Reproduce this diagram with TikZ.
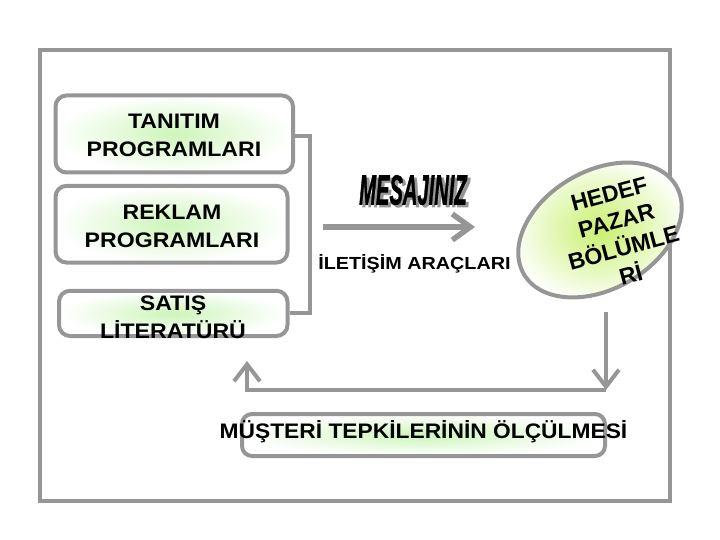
\documentclass[tikz,border=0pt]{standalone}
\usepackage{fontspec}
\usepackage{graphicx}
\setmainfont{Liberation Sans}
\usetikzlibrary{arrows.meta,shapes.geometric}
\definecolor{lg}{RGB}{150,150,150}
\definecolor{glow}{RGB}{205,245,185}
\definecolor{lime}{RGB}{200,240,110}
\newcommand{\sxx}[2][1.1]{\scalebox{#1}[1]{#2}}
\tikzset{
  gline/.style={draw=lg, line width=4pt},
  barb/.style={-{Straight Barb[length=17pt,width=26pt]}},
  box/.style={draw=lg, line width=4pt, rounded corners=11pt, inner color=glow, outer color=white},
  lbl/.style={align=center, font=\bfseries\fontsize{21}{28}\selectfont, inner sep=0pt},
  msgfont/.style={inner sep=0pt, font=\bfseries\itshape\fontsize{42}{42}\selectfont\addfontfeature{FakeBold=1.6}},
}
\begin{document}
\begin{tikzpicture}[x=1pt,y=-1pt]
\useasboundingbox (0,0) rectangle (720,540);
% frame
\draw[gline] (40,50.5) rectangle (669.5,500.5);
% boxes
\node[box, minimum width=237.5pt, minimum height=77pt] (b1) at (174.25,134) {};
\node[box, minimum width=232pt, minimum height=76.7pt] (b2) at (171.5,224.2) {};
\node[box, minimum width=228.5pt, minimum height=45.2pt] (b3) at (173.25,313.4) {};
\node[box, minimum width=363pt, minimum height=42pt, rounded corners=10pt] (b4) at (423.5,435) {};
% texts
\node[lbl] (t1) at (174,135) {\sxx{TANITIM}\\\sxx{PROGRAMLARI}};
\node[lbl] (t2) at (172,226) {\sxx{REKLAM}\\\sxx{PROGRAMLARI}};
\node[lbl] (t3) at (173,317) {\sxx{SATIŞ}\\\sxx{LİTERATÜRÜ}};
\node[lbl] (t4) at (423.5,432) {\sxx[1.085]{MÜŞTERİ TEPKİLERİNİN ÖLÇÜLMESİ}};
% bracket
\coordinate (bk) at (310,136);
\draw[gline] (b1.east |- bk) -- (bk) -- (bk |- b3.east) -- (b3.east);
% middle arrow
\coordinate (m0) at (323,227);
\coordinate (m1) at (475,227);
\draw[gline, line width=5.5pt, -{Straight Barb[length=18pt,width=26pt]}] (m0) -- (m1);
\node[msgfont, text=lg] (msgsh) at (416,192.5) {\scalebox{0.48}[1]{MESAJINIZ}};
\node[msgfont] (msg) at (413,190) {\scalebox{0.48}[1]{MESAJINIZ}};
\node[inner sep=0pt, font=\bfseries\fontsize{17.5}{20}\selectfont] (ia) at (414.5,264) {\sxx[1.13]{İLETİŞİM ARAÇLARI}};
% target ellipse
\node[ellipse, draw=lg, line width=4pt, inner color=lime, outer color=white, minimum width=176pt, minimum height=118pt, rotate=30] (tgt) at (600,230) {};
\node[lbl, font=\bfseries\fontsize{23}{28}\selectfont, rotate=15] (tt) at (620,234.5) {HEDEF\\PAZAR\\BÖLÜMLE\\Rİ};
% feedback loop
\coordinate (d0) at (606,312);
\coordinate (d1) at (606,390);
\coordinate (u0) at (247,390);
\coordinate (u1) at (247,361);
\draw[gline, barb] (d0) -- (d1);
\draw[gline, barb] (d1) -- (u0) -- (u1);
\end{tikzpicture}
\end{document}
